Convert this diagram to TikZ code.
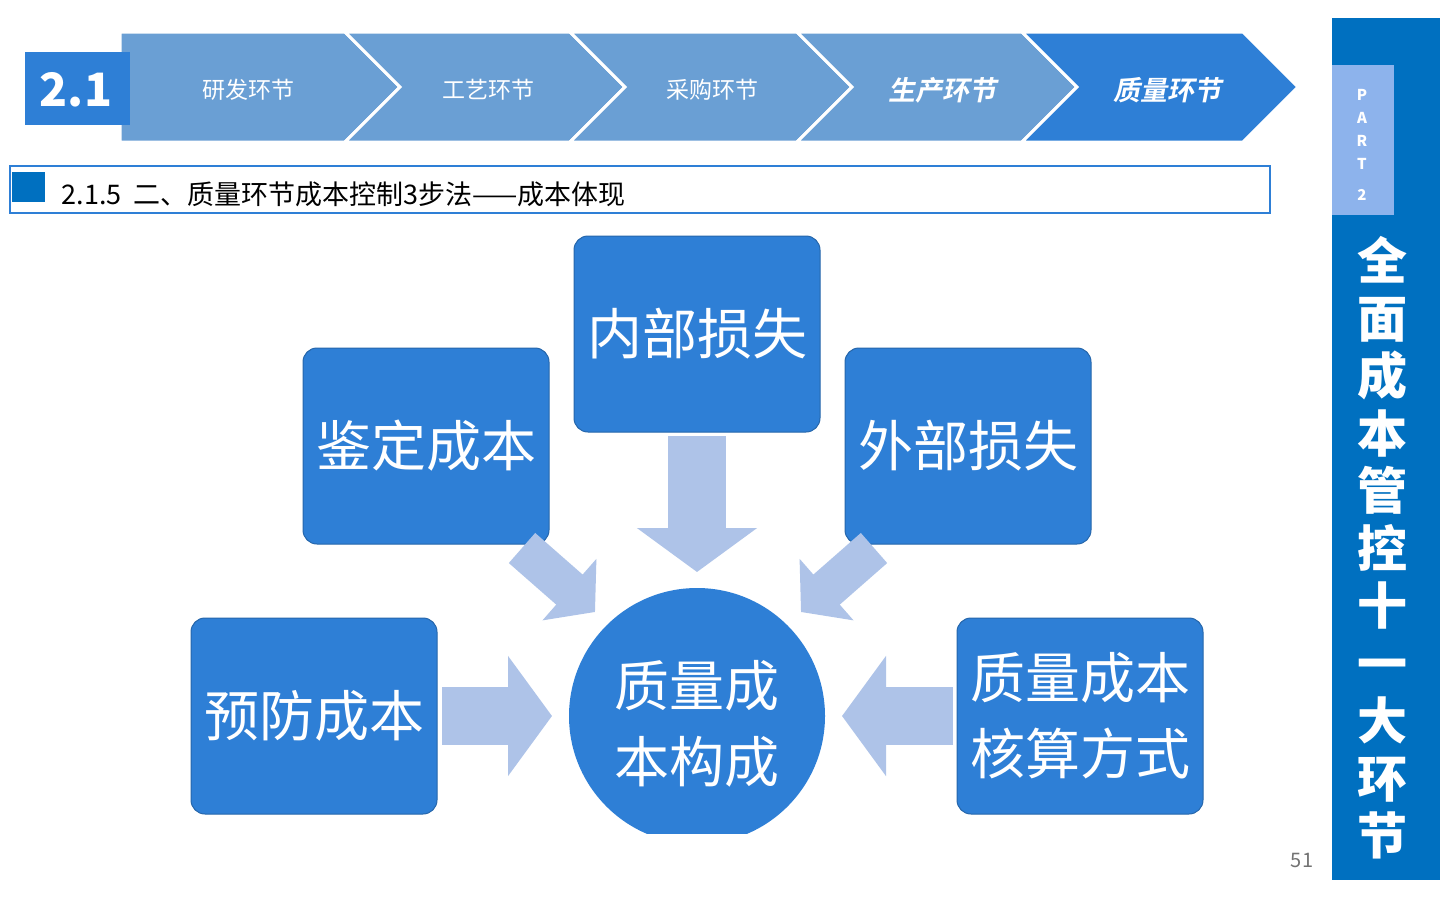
\documentclass[tikz,border=0pt]{standalone}
\usepackage{fontspec}
\setmainfont{Noto Sans CJK SC}
\newfontfamily\slantcjk[FakeSlant=0.2]{Noto Sans CJK SC Bold}
\usetikzlibrary{positioning, arrows.meta}
\definecolor{boxblue}{HTML}{2E7FD6}
\definecolor{barblue}{HTML}{0070C0}
\definecolor{chevlight}{HTML}{6A9FD4}
\definecolor{arrowblue}{HTML}{AEC3E8}
\definecolor{partblue}{HTML}{8DB3EC}
\tikzset{
  costbox/.style={draw=boxblue!80!black, line width=1pt, fill=boxblue, rounded corners=14pt,
    minimum width=246pt, minimum height=196pt, text=white, align=center,
    font=\fontsize{55}{76}\selectfont},
  chev/.style={fill=chevlight, draw=white, line width=3pt},
  chevtext/.style={text=white, font=\fontsize{23}{26}\selectfont},
  blockarrow/.style={draw=arrowblue, line width=58pt, -{Triangle[length=44pt,width=118pt]}}
}
\begin{document}
\begin{tikzpicture}[x=1pt,y=-1pt]
  \useasboundingbox (0,0) rectangle (1440,900);
  \fill[white] (0,0) rectangle (1440,900);
  % chevrons
  \draw[chev] (120,32) -- (345,32) -- (400,87) -- (345,142) -- (120,142) -- cycle;
  \draw[chev] (345,32) -- (570,32) -- (625,87) -- (570,142) -- (345,142) -- (400,87) -- cycle;
  \draw[chev] (570,32) -- (797,32) -- (852,87) -- (797,142) -- (570,142) -- (625,87) -- cycle;
  \draw[chev] (797,32) -- (1022,32) -- (1077,87) -- (1022,142) -- (797,142) -- (852,87) -- cycle;
  \draw[chev, fill=boxblue] (1022,32) -- (1243,32) -- (1298,87) -- (1243,142) -- (1022,142) -- (1077,87) -- cycle;
  \node[chevtext] (c1) at (248,90) {研发环节};
  \node[chevtext] (c2) at (488,90) {工艺环节};
  \node[chevtext] (c3) at (712,90) {采购环节};
  \node[chevtext, font=\fontsize{27}{28}\slantcjk] (c4) at (942,90) {生产环节};
  \node[chevtext, font=\fontsize{27}{28}\slantcjk] (c5) at (1167,90) {质量环节};
  \fill[boxblue] (25,52) rectangle (130,125);
  \node[text=white, font=\fontsize{46}{50}\selectfont\bfseries] (sec) at (76,90) {2.1};
  % title bar
  \draw[boxblue, line width=1.2pt] (10,166) rectangle (1270,213);
  \fill[barblue] (12,172) rectangle (45,202);
  \node[anchor=west, font=\fontsize{27}{30}\selectfont] (title) at (58,194) {2.1.5\ \ 二、质量环节成本控制3步法——成本体现};
  % sidebar
  \fill[barblue] (1332,18) rectangle (1440,880);
  \fill[partblue] (1332,65) rectangle (1394,215);
  \node[text=white, align=center, font=\fontsize{15}{23}\selectfont\bfseries] (part) at (1362,145) {P\\A\\R\\T\\[8pt]2};
  \node[text=white, align=center, anchor=north, font=\fontsize{50}{57.5}\selectfont\bfseries] (side) at (1382,233)
    {全\\面\\成\\本\\管\\控\\十\\一\\大\\环\\节};
  \node[text=black!55, font=\fontsize{20}{22}\selectfont] (pg) at (1302,860) {51};
  % boxes
  \node[costbox] (inner) at (697,334) {内部损失};
  \node[costbox] (appr) at (426,446) {鉴定成本};
  \node[costbox] (outer) at (968,446) {外部损失};
  \node[costbox] (prev) at (314,716) {预防成本};
  \node[costbox] (acct) at (1080,716) {质量成本\\核算方式};
  \begin{scope}
    \clip (500,560) rectangle (900,833);
    \fill[boxblue] (697,716) circle (128);
  \end{scope}
  \node[text=white, align=center, font=\fontsize{55}{76}\selectfont] (core) at (697,724) {质量成\\本构成};
  % arrows
  \coordinate (d1) at (697,436); \coordinate (d2) at (697,572);
  \draw[blockarrow] (d1) -- (d2);
  \coordinate (r1) at (442,716); \coordinate (r2) at (552,716);
  \draw[blockarrow] (r1) -- (r2);
  \coordinate (l1) at (953,716); \coordinate (l2) at (842,716);
  \draw[blockarrow] (l1) -- (l2);
  \coordinate (a1) at (522,548); \coordinate (a2) at (595,612);
  \draw[blockarrow, line width=40pt, -{Triangle[length=34pt,width=80pt]}] (a1) -- (a2);
  \coordinate (b1) at (874,548); \coordinate (b2) at (801,612);
  \draw[blockarrow, line width=40pt, -{Triangle[length=34pt,width=80pt]}] (b1) -- (b2);
\end{tikzpicture}
\end{document}
